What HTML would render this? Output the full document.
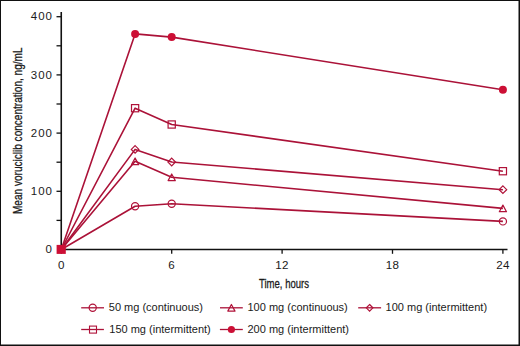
<!DOCTYPE html>
<html>
<head>
<meta charset="utf-8">
<style>
html,body{margin:0;padding:0;background:#fff;width:520px;height:346px;overflow:hidden;}
svg{display:block;}
text{font-family:"Liberation Sans",sans-serif;fill:#1a1a1a;}
</style>
</head>
<body>
<svg width="520" height="346" viewBox="0 0 520 346">
<rect x="0" y="0" width="520" height="346" fill="#fff"/>
<!-- frame -->
<rect x="0" y="0" width="520" height="1" fill="#111"/>
<rect x="0" y="0" width="1" height="346" fill="#111"/>
<rect x="518.5" y="0" width="1.5" height="346" fill="#111"/>
<rect x="0" y="344.5" width="520" height="1.5" fill="#111"/>

<!-- axes -->
<g stroke="#111" stroke-width="1.6" fill="none">
  <line x1="61.25" y1="12" x2="61.25" y2="250.3"/>
  <line x1="60.5" y1="249.5" x2="507.5" y2="249.5"/>
</g>
<g stroke="#111" stroke-width="1.3" fill="none">
  <!-- y ticks every 50 -->
  <line x1="56.5" y1="16.7" x2="61" y2="16.7"/>
  <line x1="56.5" y1="45.8" x2="61" y2="45.8"/>
  <line x1="56.5" y1="74.9" x2="61" y2="74.9"/>
  <line x1="56.5" y1="104.0" x2="61" y2="104.0"/>
  <line x1="56.5" y1="133.1" x2="61" y2="133.1"/>
  <line x1="56.5" y1="162.2" x2="61" y2="162.2"/>
  <line x1="56.5" y1="191.3" x2="61" y2="191.3"/>
  <line x1="56.5" y1="220.4" x2="61" y2="220.4"/>
  <!-- x ticks -->
  <line x1="61.3" y1="249.5" x2="61.3" y2="253.8"/>
  <line x1="171.7" y1="249.5" x2="171.7" y2="253.8"/>
  <line x1="282.1" y1="249.5" x2="282.1" y2="253.8"/>
  <line x1="392.5" y1="249.5" x2="392.5" y2="253.8"/>
  <line x1="502.9" y1="249.5" x2="502.9" y2="253.8"/>
</g>

<!-- tick labels -->
<g font-size="11.5" text-anchor="end" letter-spacing="0.95">
  <text x="52.9" y="20.3">400</text>
  <text x="52.9" y="78.5">300</text>
  <text x="52.9" y="136.7">200</text>
  <text x="52.9" y="194.9">100</text>
  <text x="52.9" y="253.1">0</text>
</g>
<g font-size="11.6" text-anchor="middle" letter-spacing="0.3">
  <text x="61.3" y="269.2">0</text>
  <text x="171.7" y="269.2">6</text>
  <text x="282.1" y="269.2">12</text>
  <text x="392.5" y="269.2">18</text>
  <text x="502.9" y="269.2">24</text>
</g>

<!-- axis titles -->
<text x="259" y="288.4" font-size="13.4" stroke="#1a1a1a" stroke-width="0.3" textLength="50" lengthAdjust="spacingAndGlyphs">Time, hours</text>
<text transform="translate(22.4,214) rotate(-90)" x="0" y="0" font-size="13.6" stroke="#1a1a1a" stroke-width="0.3" textLength="166.5" lengthAdjust="spacingAndGlyphs">Mean voruciclib concentration, ng/mL</text>

<!-- series lines -->
<g stroke="#ab1238" stroke-width="1.6" fill="none" stroke-linejoin="round">
  <polyline points="61.3,249.5 135.1,206.2 171.7,203.7 502.9,221.4"/>
  <polyline points="61.3,249.5 135.1,161.3 171.7,177.3 502.9,208.4"/>
  <polyline points="61.3,249.5 135.1,149.4 171.7,162.0 502.9,189.7"/>
  <polyline points="61.3,249.5 135.1,108.2 171.7,124.5 502.9,171.2"/>
  <polyline points="61.3,249.5 135.1,33.9 171.7,37.1 502.9,89.8"/>
</g>

<!-- markers -->
<defs>
  <circle id="mc" r="3.6" fill="none" stroke="#b01239" stroke-width="1.2"/>
  <path id="mt" d="M0,-3.3 L3.6,3.3 L-3.6,3.3 Z" fill="none" stroke="#b01239" stroke-width="1.2" stroke-linejoin="round"/>
  <path id="md" d="M0,-3.8 L3.8,0 L0,3.8 L-3.8,0 Z" fill="none" stroke="#b01239" stroke-width="1.2"/>
  <rect id="ms" x="-3.6" y="-3.6" width="7.2" height="7.2" fill="none" stroke="#b01239" stroke-width="1.2"/>
  <circle id="mf" r="4" fill="#cc0f35"/>
</defs>
<rect x="56.6" y="244.9" width="9.2" height="9" fill="#cc0f35"/>
<use href="#mc" x="135.1" y="206.2"/><use href="#mc" x="171.7" y="203.7"/><use href="#mc" x="502.9" y="221.4"/>
<use href="#mt" x="135.1" y="161.3"/><use href="#mt" x="171.7" y="177.3"/><use href="#mt" x="502.9" y="208.4"/>
<use href="#md" x="135.1" y="149.4"/><use href="#md" x="171.7" y="162.0"/><use href="#md" x="502.9" y="189.7"/>
<use href="#ms" x="135.1" y="108.2"/><use href="#ms" x="171.7" y="124.5"/><use href="#ms" x="502.9" y="171.2"/>
<use href="#mf" x="135.1" y="33.9"/><use href="#mf" x="171.7" y="37.1"/><use href="#mf" x="502.9" y="89.8"/>

<!-- legend -->
<g stroke="#ab1238" stroke-width="1.3">
  <line x1="81.2" y1="307.8" x2="104" y2="307.8"/>
  <line x1="220" y1="307.8" x2="242.8" y2="307.8"/>
  <line x1="358.2" y1="307.8" x2="381.1" y2="307.8"/>
  <line x1="81.2" y1="329.5" x2="103.9" y2="329.5"/>
  <line x1="219.9" y1="329.5" x2="242.8" y2="329.5"/>
</g>
<use href="#mc" x="92.7" y="307.8"/>
<use href="#mt" x="231.4" y="307.8"/>
<path d="M369.6,304.5 L372.9,307.8 L369.6,311.1 L366.3,307.8 Z" fill="none" stroke="#b01239" stroke-width="1.2"/>
<rect x="89.5" y="326.1" width="7" height="7" fill="none" stroke="#b01239" stroke-width="1.1"/>
<circle cx="231.4" cy="329.5" r="3.6" fill="#cc0f35"/>
<g font-size="11">
  <text x="108.8" y="311.4">50 mg (continuous)</text>
  <text x="247.5" y="311.4">100 mg (continuous)</text>
  <text x="385.6" y="311.4">100 mg (intermittent)</text>
  <text x="109.3" y="333.1">150 mg (intermittent)</text>
  <text x="247.5" y="333.1">200 mg (intermittent)</text>
</g>
</svg>
</body>
</html>
